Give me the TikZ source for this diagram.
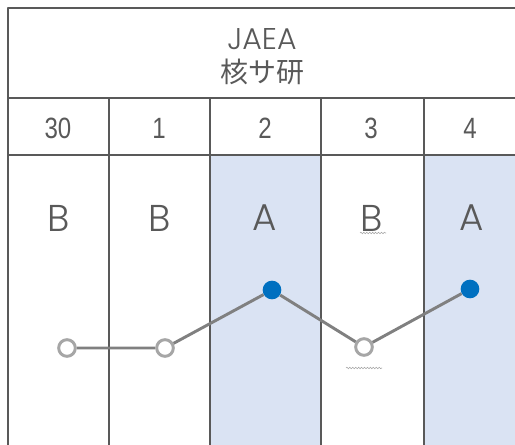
\documentclass[tikz,border=0pt]{standalone}
\usepackage{fontspec}
\setmainfont{Liberation Sans}
\IfFontExistsTF{Poppins Light}{\newfontfamily\thinfont{Poppins Light}}{\newfontfamily\thinfont{Poppins}}
\newfontfamily\numfont{Liberation Sans}[FakeStretch=0.82]
\newfontfamily\cjk{Noto Sans CJK JP}
\usepackage{tikz}
\usetikzlibrary{positioning, decorations.pathmorphing}
\definecolor{gridgray}{HTML}{595959}
\definecolor{cellblue}{HTML}{DAE3F3}
\definecolor{linegray}{HTML}{808080}
\definecolor{ringgray}{HTML}{A6A6A6}
\definecolor{dotblue}{HTML}{0070C0}

\begin{document}
\begin{tikzpicture}[x=0.75pt, y=-0.75pt, line join=round,
grid/.style={draw=gridgray, line width=1.9pt},
head/.style={text=gridgray, align=center, inner sep=0pt},
day/.style={text=gridgray, inner sep=0pt, font=\numfont\fontsize{22}{22}\selectfont},
rank/.style={text=gridgray, inner sep=0pt, font=\thinfont\fontsize{28}{28}\selectfont},
open/.style={draw=ringgray, fill=white, circle, line width=2.2pt, inner sep=0pt, minimum size=12.5pt},
full/.style={fill=dotblue, circle, inner sep=0pt, minimum size=14pt},
wavy/.style={draw=ringgray, line width=0.4pt, decorate, decoration={snake, amplitude=0.6pt, segment length=2.2pt}}
]
    \useasboundingbox (0, 0) rectangle (515, 445);

    % Shaded columns
    \fill [cellblue] (210, 155) rectangle (321, 445);
    \fill [cellblue] (424, 155) rectangle (515, 445);

    % Table lines
    \draw [grid] (515, 8) -- (8, 8) -- (8, 445);
    \draw [grid] (8, 98) -- (515, 98);
    \draw [grid] (8, 155) -- (515, 155);
    \foreach \x in {109, 210, 321, 424}
        \draw [grid] (\x, 98) -- (\x, 445);

    % Header
    \node (jaea) at (262, 39) [head, font=\thinfont\fontsize{22.5}{22.5}\selectfont] {JAEA};
    \node (site) at (262, 72) [head, font=\cjk\fontsize{21}{21}\selectfont] {核サ研};

    % Days
    \node (d1) at (58, 128) [day] {30};
    \node (d2) at (159, 128) [day] {1};
    \node (d3) at (265, 128) [day] {2};
    \node (d4) at (371, 128) [day] {3};
    \node (d5) at (470, 128) [day] {4};

    % Ranks
    \node (r1) at (59, 218) [rank] {B};
    \node (r2) at (160, 218) [rank] {B};
    \node (r3) at (265, 218) [rank] {A};
    \node (r4) at (372, 218) [rank] {B};
    \node (r5) at (472, 218) [rank] {A};

    % Points
    \node (p1) at (67, 348) [open] {};
    \node (p2) at (165, 348) [open] {};
    \node (p3) at (272, 290) [full] {};
    \node (p4) at (364, 347) [open] {};
    \node (p5) at (470, 289) [full] {};

    \draw [linegray, line width=2.2pt] (p1) -- (p2) -- (p3) -- (p4) -- (p5);

    % Marks
    \draw [wavy] (360, 233) -- (386, 233);
    \draw [wavy] (346, 368) -- (382, 368);

\end{tikzpicture}
\end{document}
